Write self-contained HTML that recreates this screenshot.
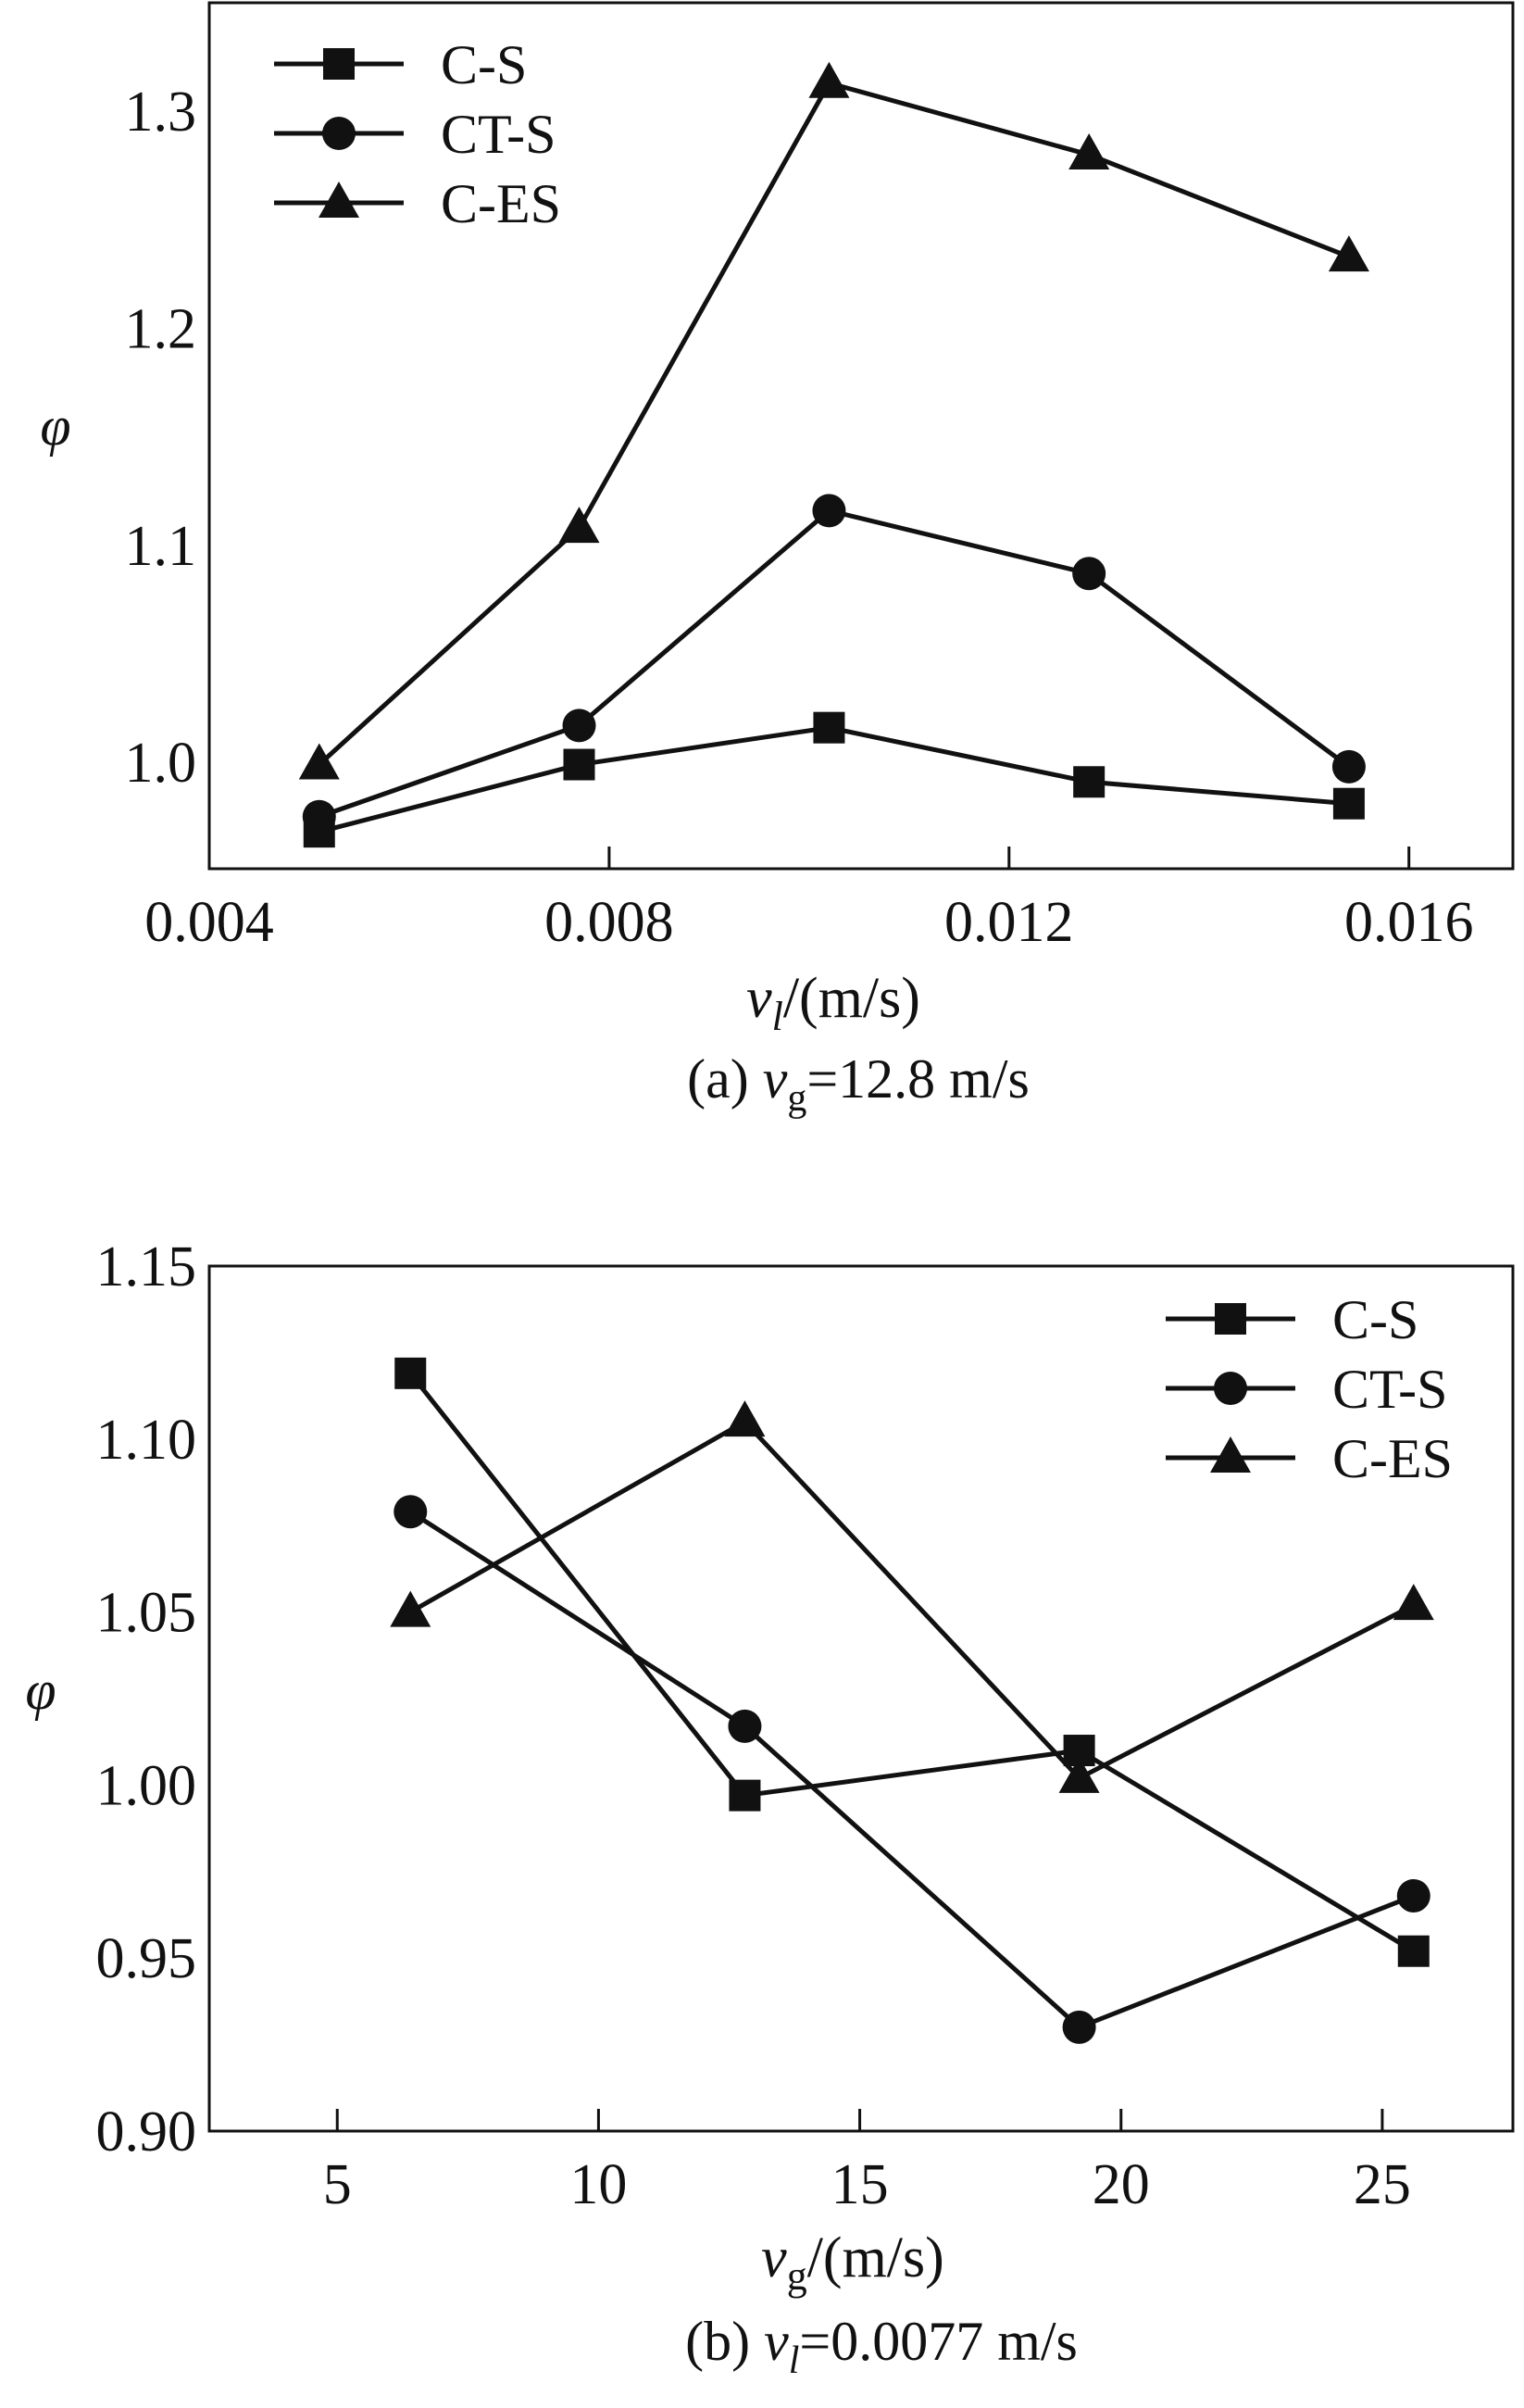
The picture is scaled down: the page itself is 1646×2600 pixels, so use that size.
<!DOCTYPE html>
<html><head><meta charset="utf-8">
<style>
html,body{margin:0;padding:0;background:#fff;}
svg{display:block;}
text{font-family:"Liberation Serif","DejaVu Serif",serif;fill:#111;}
</style></head>
<body>
<svg id="fig" width="1646" height="2600" viewBox="0 0 1646 2600" xmlns="http://www.w3.org/2000/svg">
<g id="chartA"></g>
<g id="chartB"></g>
</svg>
<script>
// Chart (a) data
const seriesNames = ["C-S", "CT-S", "C-ES"];
const aX = [0.0051, 0.0077, 0.0102, 0.0128, 0.0154];
const aCS = [0.968, 0.999, 1.016, 0.991, 0.981];
const aCTS = [0.975, 1.017, 1.116, 1.087, 0.998];
const aCES = [0.999, 1.108, 1.313, 1.280, 1.233];
const aXTicks = [0.004, 0.008, 0.012, 0.016];
const aXTickLabels = ["0.004", "0.008", "0.012", "0.016"];
const aYTicks = [1.0, 1.1, 1.2, 1.3];
const aYTickLabels = ["1.0", "1.1", "1.2", "1.3"];
// Chart (b) data
const bX = [6.4, 12.8, 19.2, 25.6];
const bCS = [1.119, 0.997, 1.010, 0.952];
const bCTS = [1.079, 1.017, 0.930, 0.968];
const bCES = [1.050, 1.105, 1.002, 1.052];
const bXTicks = [5, 10, 15, 20, 25];
const bXTickLabels = ["5", "10", "15", "20", "25"];
const bYTicks = [0.90, 0.95, 1.00, 1.05, 1.10, 1.15];
const bYTickLabels = ["0.90", "0.95", "1.00", "1.05", "1.10", "1.15"];

const NS = "http://www.w3.org/2000/svg";
function mk(tag, attrs, parent){
  const e = document.createElementNS(NS, tag);
  for (const k in attrs) e.setAttribute(k, attrs[k]);
  parent.appendChild(e);
  return e;
}
function marker(g, kind, cx, cy){
  let m;
  if (kind === 0) m = mk("rect", {x: cx-17, y: cy-17, width: 34, height: 34, fill: "#111"}, g);
  else if (kind === 1) m = mk("circle", {cx: cx, cy: cy, r: 18, fill: "#111"}, g);
  else m = mk("polygon", {points: `${cx},${cy-23} ${cx+22},${cy+16} ${cx-22},${cy+16}`, fill: "#111"}, g);
  return m;
}

function drawChart(g, cfg){
  const L = cfg.left, R = cfg.right, T = cfg.top, B = cfg.bottom;
  const sx = v => L + (v - cfg.xmin) / (cfg.xmax - cfg.xmin) * (R - L);
  const sy = v => B - (v - cfg.ymin) / (cfg.ymax - cfg.ymin) * (B - T);
  const frame = mk("rect", {x: L, y: T, width: R-L, height: B-T, fill: "none", stroke: "#111", "stroke-width": 3}, g);
  
  
  cfg.xTicks.forEach((t, i) => {
    const x = sx(t);
    const tk = mk("line", {x1: x, y1: B, x2: x, y2: B-24, stroke: "#111", "stroke-width": 3}, g);
    
    
    const tl = mk("text", {x: x, y: B+78, "font-size": 62, "text-anchor": "middle"}, g);
    tl.textContent = cfg.xTickLabels[i];
    
    
  });
  cfg.yTicks.forEach((t, i) => {
    const y = sy(t);
    const tl = mk("text", {x: L-14, y: y+21, "font-size": 62, "text-anchor": "end"}, g);
    tl.textContent = cfg.yTickLabels[i];
    
    
  });
  cfg.series.forEach((ys, si) => {
    const sg = mk("g", {}, g);
    
    
    const pts = ys.map((v, i) => sx(cfg.x[i]) + "," + sy(v)).join(" ");
    const pl = mk("polyline", {points: pts, fill: "none", stroke: "#111", "stroke-width": 5}, sg);
    
    
    ys.forEach((v, i) => {
      const m = marker(sg, si, sx(cfg.x[i]), sy(v));
      
      
    });
  });
  const lg = mk("g", {}, g);
  
  
  seriesNames.forEach((n, i) => {
    const y = cfg.legY + i * 75;
    const le = mk("g", {}, lg);
    
    
    mk("line", {x1: cfg.legX, y1: y, x2: cfg.legX + 140, y2: y, stroke: "#111", "stroke-width": 5}, le);
    marker(le, i, cfg.legX + 70, y);
    const t = mk("text", {x: cfg.legX + 180, y: y + 21, "font-size": 60}, le);
    t.textContent = n;
  });
}

drawChart(document.getElementById("chartA"), {
  left: 226, right: 1634, top: 3, bottom: 938,
  xmin: 0.004, xmax: 0.01704, ymin: 0.951, ymax: 1.35,
  x: aX, series: [aCS, aCTS, aCES],
  xTicks: aXTicks, xTickLabels: aXTickLabels, yTicks: aYTicks, yTickLabels: aYTickLabels,
  legX: 296, legY: 69
});
drawChart(document.getElementById("chartB"), {
  left: 226, right: 1634, top: 1367, bottom: 2301,
  xmin: 2.55, xmax: 27.5, ymin: 0.90, ymax: 1.15,
  x: bX, series: [bCS, bCTS, bCES],
  xTicks: bXTicks, xTickLabels: bXTickLabels, yTicks: bYTicks, yTickLabels: bYTickLabels,
  legX: 1259, legY: 1424
});
</script>
<svg style="position:absolute;left:0;top:0" width="1646" height="2600" viewBox="0 0 1646 2600" xmlns="http://www.w3.org/2000/svg">
<text x="60" y="480" font-size="60" font-style="italic" text-anchor="middle">φ</text>
<text x="900" y="1098" font-size="62" text-anchor="middle"><tspan font-style="italic">v</tspan><tspan font-style="italic" font-size="44" dy="14">l</tspan><tspan dy="-14">/(m/s)</tspan></text>
<text x="927" y="1185" font-size="60" text-anchor="middle">(a) <tspan font-style="italic">v</tspan><tspan font-size="42" dy="14">g</tspan><tspan dy="-14">=12.8 m/s</tspan></text>
<text x="44" y="1845" font-size="60" font-style="italic" text-anchor="middle">φ</text>
<text x="921" y="2458" font-size="62" text-anchor="middle"><tspan font-style="italic">v</tspan><tspan font-size="44" dy="14">g</tspan><tspan dy="-14">/(m/s)</tspan></text>
<text x="952" y="2548" font-size="60" text-anchor="middle">(b) <tspan font-style="italic">v</tspan><tspan font-style="italic" font-size="42" dy="14">l</tspan><tspan dy="-14">=0.0077 m/s</tspan></text>
</svg>
</body></html>
